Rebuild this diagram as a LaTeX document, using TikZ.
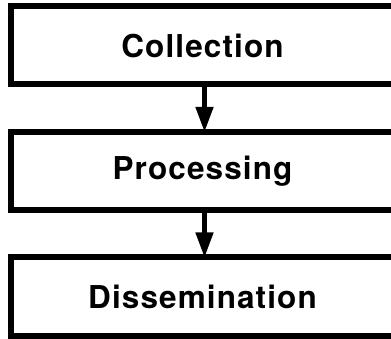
\documentclass[tikz,border=0pt]{standalone}
\usepackage{fontspec}
\setmainfont{TeX Gyre Heros}[LetterSpace=3.5]
\usetikzlibrary{positioning,arrows.meta}

\tikzset{
  etape/.style={draw, line width=6pt, rectangle, minimum width=383pt, minimum height=78pt,
    inner sep=0pt, font=\fontsize{31.5}{36}\selectfont\bfseries},
  fleche/.style={line width=4.5pt, -{Triangle[width=17pt,length=25pt]}, shorten >=-3pt}
}

\begin{document}
\begin{tikzpicture}[x=1pt,y=1pt, node distance=41.5pt]
    \useasboundingbox (0,0) rectangle (391,-339); % cadre de l'image
    \coordinate (axe) at (204.5,0); % axe des fleches
    \node[etape] (collection) at (202.5,-45.5) {Collection};
    \node[etape, below=of collection] (processing) {Processing};
    \node[etape, below=of processing] (dissemination) {Dissemination};
    \draw[fleche] (collection.south -| axe) -- (processing.north -| axe);
    \draw[fleche] (processing.south -| axe) -- (dissemination.north -| axe);
\end{tikzpicture}
\end{document}
